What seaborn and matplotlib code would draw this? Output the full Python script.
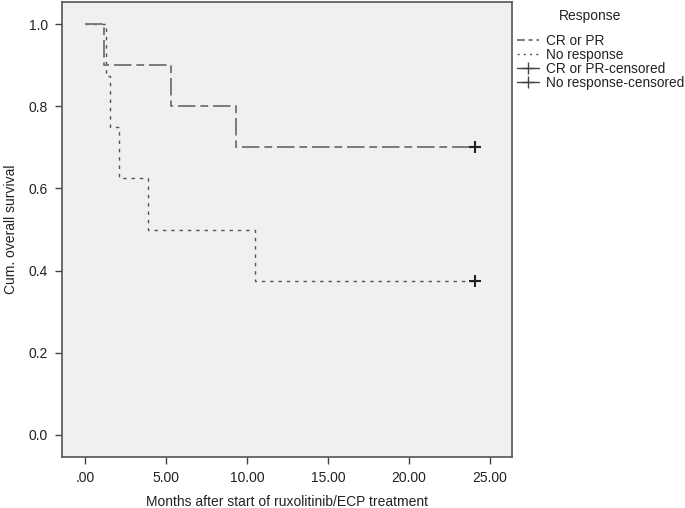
import numpy as np
import pandas as pd
import matplotlib
matplotlib.use('Agg')
import matplotlib.pyplot as plt
import seaborn as sns
from matplotlib.lines import Line2D

# Kaplan-Meier steps
cr_time = [0, 1.2, 5.3, 9.3, 24.1]
cr_surv = [1.0, 0.9, 0.8, 0.7, 0.7]
nr_time = [0, 1.3, 1.55, 2.1, 3.9, 10.5, 24.1]
nr_surv = [1.0, 0.875, 0.75, 0.625, 0.5, 0.375, 0.375]
cens_time = [24.1, 24.1]
cens_surv = [0.7, 0.375]
groups = ['CR or PR', 'No response']
xticks = [0, 5, 10, 15, 20, 25]
xtick_labels = ['.00', '5.00', '10.00', '15.00', '20.00', '25.00']
yticks = [0.0, 0.2, 0.4, 0.6, 0.8, 1.0]

sns.set_style('ticks')
plt.rcParams['font.family'] = ['Liberation Sans', 'DejaVu Sans']

df = pd.concat([
    pd.DataFrame({'t': cr_time, 's': cr_surv, 'g': groups[0]}),
    pd.DataFrame({'t': nr_time, 's': nr_surv, 'g': groups[1]}),
])

fig = plt.figure(figsize=(6.85, 5.08), dpi=100)
# axes box: x 62..512, y 2..457 px
ax = fig.add_axes([62 / 685, 51 / 508, 450 / 685, 455 / 508])
ax.set_facecolor('#f0f0f0')

# No response first so CR line sits on top
sub = df[df.g == groups[1]]
sns.lineplot(x=sub.t, y=sub.s, ax=ax, drawstyle='steps-post', color='#555555',
             linewidth=1.0, linestyle=(0, (2.5, 3.5)), estimator=None, legend=False)
sub = df[df.g == groups[0]]
sns.lineplot(x=sub.t, y=sub.s, ax=ax, drawstyle='steps-post', color='#7a7a7a',
             linewidth=1.4, linestyle=(0, (9, 2.5, 4, 2.5)), estimator=None, legend=False)
sns.scatterplot(x=cens_time, y=cens_surv, ax=ax, marker='+', s=70, color='#222222',
                linewidth=1.5, legend=False, zorder=5)

ax.set_xlim(-1.42, 26.36)
ax.set_ylim(-0.054, 1.054)
ax.set_xticks(xticks)
ax.set_xticklabels(xtick_labels)
ax.set_yticks(yticks)
ax.set_yticklabels(['%.1f' % v for v in yticks])
ax.tick_params(axis='both', direction='out', length=5, width=1, color='#444444',
               labelsize=10, labelcolor='#222222', pad=5)
for sp in ax.spines.values():
    sp.set_visible(True)
    sp.set_color('#555555')
    sp.set_linewidth(1.2)
ax.set_xlabel('Months after start of ruxolitinib/ECP treatment', fontsize=10, color='#222222', labelpad=7)
ax.set_ylabel('Cum. overall survival', fontsize=10, color='#222222', labelpad=8)

handles = [
    Line2D([], [], color='#7a7a7a', linewidth=1.4, linestyle=(0, (4, 2, 2, 2))),
    Line2D([], [], color='#555555', linewidth=1.0, linestyle=(0, (1.5, 3))),
    Line2D([], [], color='#444444', linewidth=1.0, marker='+', markersize=9, markeredgewidth=1.0),
    Line2D([], [], color='#444444', linewidth=1.0, marker='+', markersize=9, markeredgewidth=1.0),
]
labels = ['CR or PR', 'No response', 'CR or PR-censored', 'No response-censored']
fig.text(590 / 685, 1 - 16 / 508, 'Response', ha='center', va='center', fontsize=10, color='#222222')
leg = fig.legend(handles, labels, loc='upper left',
                 bbox_to_anchor=(517 / 685, 1 - 34 / 508), frameon=False, fontsize=9.8,
                 handlelength=1.6, handletextpad=0.5,
                 labelspacing=0.0, borderaxespad=0, borderpad=0)
for t in leg.get_texts():
    t.set_color('#222222')

fig.savefig('out.png', dpi=100)
